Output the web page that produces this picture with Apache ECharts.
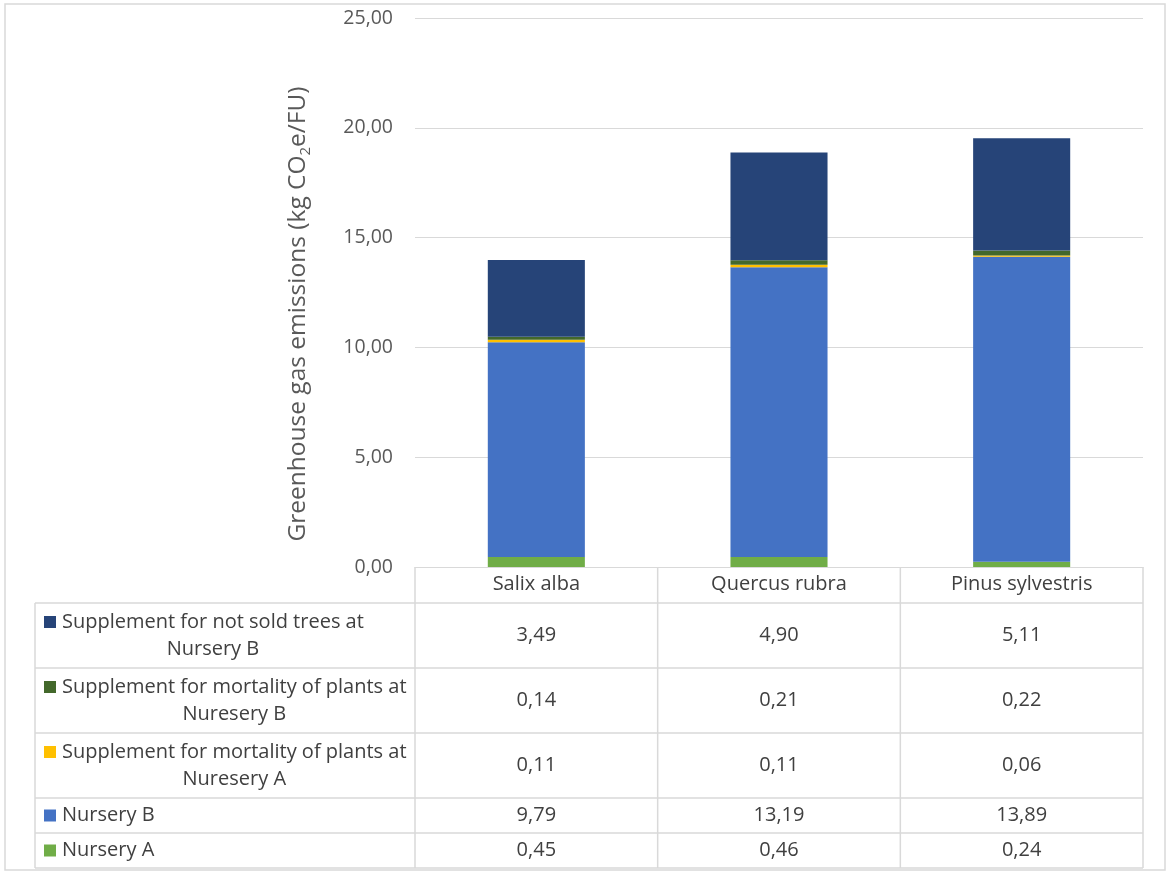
<!DOCTYPE html>
<html>
<head>
<meta charset="utf-8">
<script src="https://cdn.jsdelivr.net/npm/echarts@6/dist/echarts.min.js"></script>
<style>
  html, body { margin: 0; background: #fff; }
  #chart { width: 1170px; height: 875px; }
</style>
</head>
<body>
<div id="chart"></div>
<script>
// species on the x axis
const species = ["Salix alba", "Quercus rubra", "Pinus sylvestris"];

// stacked values, bottom to top (kg CO2e/FU)
const nurseryA = [0.45, 0.46, 0.24];
const nurseryB = [9.79, 13.19, 13.89];
const mortalityA = [0.11, 0.11, 0.06];
const mortalityB = [0.14, 0.21, 0.22];
const notSold = [3.49, 4.90, 5.11];

const yTicks = [0, 5, 10, 15, 20, 25];

const seriesDefs = [
  { name: "Nursery A", data: nurseryA, color: "#70AD47" },
  { name: "Nursery B", data: nurseryB, color: "#4472C4" },
  { name: "Supplement for mortality of plants at\nNuresery A", data: mortalityA, color: "#FFC000" },
  { name: "Supplement for mortality of plants at\nNuresery B", data: mortalityB, color: "#43682B" },
  { name: "Supplement for not sold trees at\nNursery B", data: notSold, color: "#264478" }
];

const FONT = "'Open Sans', Lato, sans-serif";
const fmt = v => v.toFixed(2).replace(".", ",");

const chart = echarts.init(document.getElementById("chart"), null, { renderer: "canvas" });

const option = {
  animation: false,
  backgroundColor: "#fff",
  textStyle: { fontFamily: FONT },
  grid: { left: 415, right: 27, top: 18, bottom: 308, containLabel: false },
  xAxis: {
    type: "category",
    data: species,
    axisLine: { show: true, lineStyle: { color: "#d9d9d9", width: 1 } },
    axisTick: { show: false },
    axisLabel: { fontSize: 20, color: "#404040", margin: 7, fontFamily: FONT }
  },
  yAxis: {
    type: "value",
    min: yTicks[0],
    max: yTicks[yTicks.length - 1],
    interval: yTicks[1] - yTicks[0],
    axisLine: { show: false },
    axisTick: { show: false },
    splitLine: { lineStyle: { color: "#d9d9d9", width: 1 } },
    axisLabel: { fontSize: 19.5, color: "#595959", margin: 22, fontFamily: FONT, formatter: fmt }
  },
  series: seriesDefs.map(s => ({
    name: s.name,
    type: "bar",
    stack: "total",
    barWidth: "40%",
    data: s.data,
    itemStyle: { color: s.color }
  }))
};

chart.setOption(option);

// data table under the plot, laid out from the axis positions
function buildTable() {
  const font = "20px " + FONT;
  const measure = document.createElement("canvas").getContext("2d");
  measure.font = font;

  const y0 = chart.convertToPixel({ yAxisIndex: 0 }, 0);
  const centers = species.map(s => chart.convertToPixel({ xAxisIndex: 0 }, s));
  const band = centers[1] - centers[0];
  const colEdges = [centers[0] - band / 2].concat(centers.map(c => c + band / 2));
  const tableLeft = 35;
  const rowHeights = [65, 65, 65, 35, 35];
  const headerBottom = y0 + 36;
  const rowEdges = [headerBottom];
  rowHeights.forEach(h => rowEdges.push(rowEdges[rowEdges.length - 1] + h));
  const bottom = rowEdges[rowEdges.length - 1];
  const line = { stroke: "#d9d9d9", lineWidth: 1.5 };

  const els = [];
  // outer frame of the whole chart
  els.push({ type: "rect", shape: { x: 5, y: 4, width: 1160, height: 866 }, style: { fill: null, stroke: "#d9d9d9", lineWidth: 1.5 }, silent: true });

  rowEdges.forEach(y => els.push({ type: "line", shape: { x1: tableLeft, y1: y, x2: colEdges[3], y2: y }, style: line }));
  els.push({ type: "line", shape: { x1: tableLeft, y1: headerBottom, x2: tableLeft, y2: bottom }, style: line });
  colEdges.forEach(x => els.push({ type: "line", shape: { x1: x, y1: y0, x2: x, y2: bottom }, style: line }));

  // rows top to bottom follow the stack from top down
  const rows = seriesDefs.slice().reverse();
  rows.forEach((s, r) => {
    const mid = (rowEdges[r] + rowEdges[r + 1]) / 2;
    const lines = s.name.split("\n");
    const lh = 27;
    const firstY = mid - (lines.length - 1) * lh / 2;
    const blockW = Math.max(...lines.map(t => measure.measureText(t).width));
    els.push({ type: "rect", shape: { x: 44, y: firstY - 6, width: 12, height: 12 }, style: { fill: s.color } });
    els.push({
      type: "text", x: 62 + blockW / 2, y: mid,
      style: { text: s.name, font: font, fill: "#404040", align: "center", verticalAlign: "middle", lineHeight: lh }
    });
    s.data.forEach((v, i) => {
      els.push({
        type: "text", x: centers[i], y: mid,
        style: { text: fmt(v), font: font, fill: "#404040", align: "center", verticalAlign: "middle" }
      });
    });
  });

  // rotated y axis title with subscript
  els.push({
    type: "text", x: 298, y: 314, rotation: Math.PI / 2,
    style: {
      text: "{a|Greenhouse gas emissions (kg CO}{sub|2}{a|e/FU)}",
      align: "center", verticalAlign: "middle",
      rich: {
        a: { fontSize: 24.5, lineHeight: 30, fontFamily: FONT, fill: "#595959" },
        sub: { fontSize: 15, lineHeight: 15, verticalAlign: "bottom", fontFamily: FONT, fill: "#595959" }
      }
    }
  });

  chart.setOption({ graphic: { elements: els } });
}

buildTable();
</script>
</body>
</html>
